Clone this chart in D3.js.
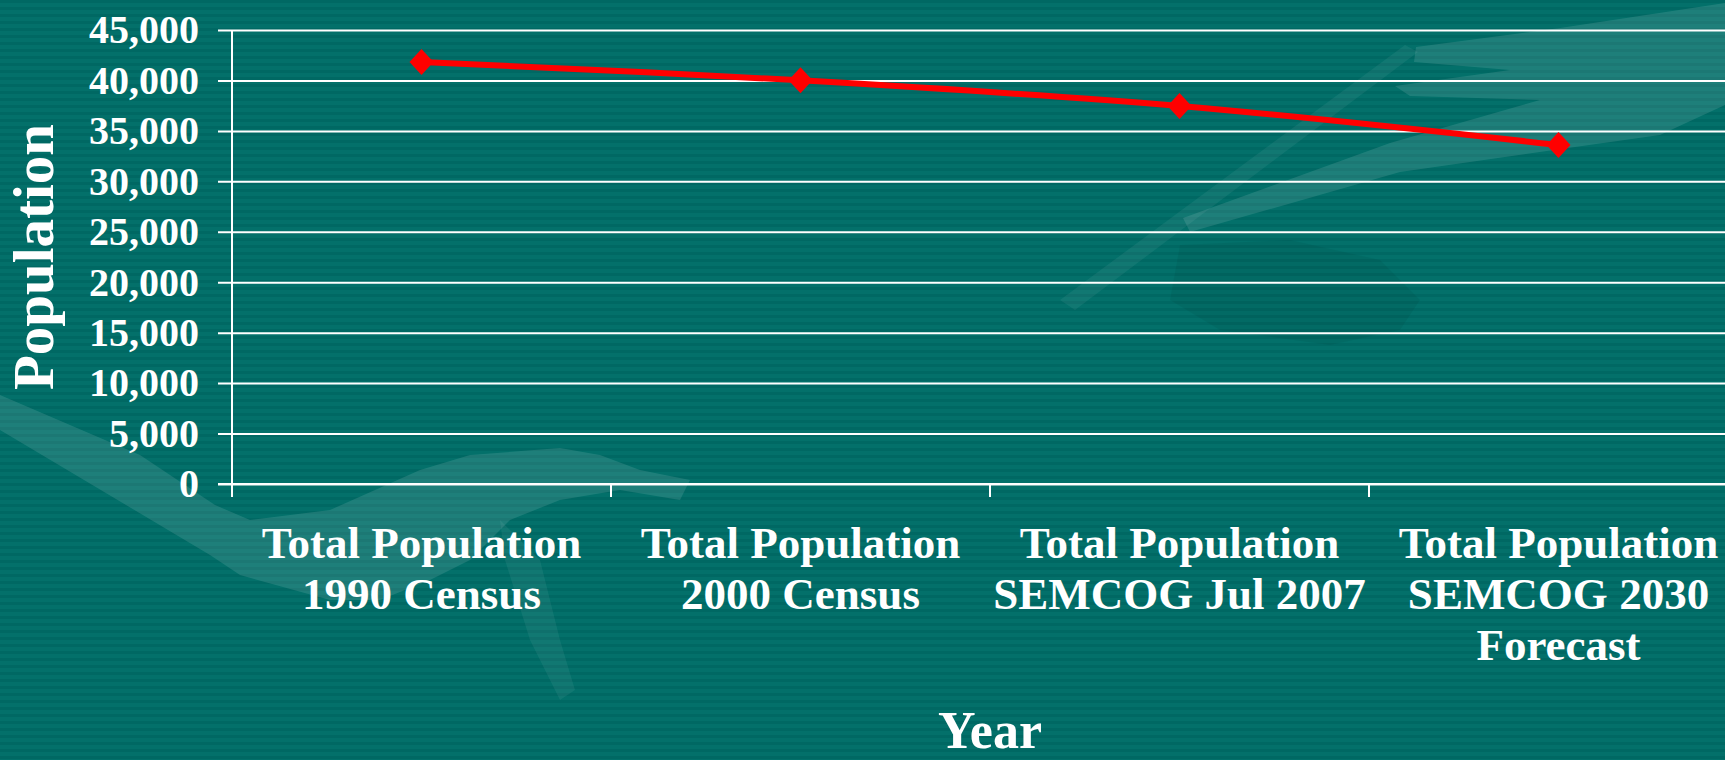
<!DOCTYPE html>
<html>
<head>
<meta charset="utf-8">
<script src="https://cdn.jsdelivr.net/npm/d3@7"></script>
<style>
  html, body { margin: 0; padding: 0; background: #006b66; overflow: hidden; }
  svg { display: block; }
  text { font-family: "Liberation Serif", "Times New Roman", serif; font-weight: bold; fill: #fff; }
</style>
</head>
<body>
<div id="chart"></div>
<script>
// Data
const categories = [
	["Total Population", "1990 Census"],
	["Total Population", "2000 Census"],
	["Total Population", "SEMCOG Jul 2007"],
	["Total Population", "SEMCOG 2030", "Forecast"]
];
const population = [41832, 40008, 37470, 33600];
const yTicks = [0, 5000, 10000, 15000, 20000, 25000, 30000, 35000, 40000, 45000];

const width = 1725, height = 760;
const plotLeft = 232, bandW = 379, plotTop = 30, plotBottom = 484;

const svg = d3.select("#chart").append("svg")
	.attr("width", width)
	.attr("height", height);

// background stripes
const defs = svg.append("defs");
const pat = defs.append("pattern")
	.attr("id", "stripes")
	.attr("width", 8).attr("height", 7)
	.attr("patternUnits", "userSpaceOnUse");
pat.append("rect").attr("width", 8).attr("height", 7).attr("fill", "#006863");
pat.append("rect").attr("y", 3).attr("width", 8).attr("height", 4).attr("fill", "#03706a");
svg.append("rect").attr("width", width).attr("height", height).attr("fill", "url(#stripes)");

// faint decorative shapes of the slide template
const deco = svg.append("g").attr("fill", "rgba(255,255,255,0.11)");
deco.append("path").attr("d",
	"M0,395 L140,455 L215,505 L250,520 L330,510 L420,470 L470,455 L560,448 L600,455 L640,470 L690,480 L680,500 L620,490 L560,500 L510,520 L470,560 L430,580 L380,600 L330,600 L240,575 L210,555 L0,430 Z");
deco.append("path").attr("fill", "rgba(255,255,255,0.06)").attr("d",
	"M500,520 L540,560 L560,640 L575,690 L560,700 L530,640 L505,560 Z");
deco.append("path").attr("d",
	"M1416,47 L1560,28 L1725,3 L1725,105 L1660,135 L1400,172 L1190,232 L1183,218 L1390,143 L1540,100 L1410,96 L1395,86 L1510,70 L1414,62 Z");
deco.append("path").attr("fill", "rgba(255,255,255,0.06)").attr("d",
	"M1060,300 L1405,45 L1418,52 L1075,310 Z");
deco.append("path").attr("fill", "rgba(0,0,0,0.05)").attr("d",
	"M1180,245 L1290,240 L1380,260 L1420,300 L1400,330 L1330,345 L1220,330 L1170,300 Z");

const x = d3.scaleBand()
	.domain(d3.range(categories.length))
	.range([plotLeft, plotLeft + bandW * categories.length]);

const y = d3.scaleLinear()
	.domain([0, 45000])
	.range([plotBottom, plotTop]);

// gridlines
svg.append("g")
	.attr("transform", "translate(" + (plotLeft - 14) + ",0)")
	.call(d3.axisLeft(y).tickValues(yTicks).tickSize(-(width - plotLeft + 14)).tickFormat(""))
	.call(g => g.select(".domain").remove())
	.call(g => g.selectAll(".tick line").attr("stroke", "#fff").attr("stroke-width", 2));

// y axis labels
svg.append("g")
	.attr("transform", "translate(" + plotLeft + ",0)")
	.call(d3.axisLeft(y).tickValues(yTicks).tickSize(0).tickPadding(33).tickFormat(d3.format(",")))
	.call(g => g.select(".domain").remove())
	.call(g => g.selectAll(".tick text").attr("font-size", "40px").attr("fill", "#fff"));

// y axis line
svg.append("line")
	.attr("x1", plotLeft).attr("x2", plotLeft)
	.attr("y1", plotTop).attr("y2", plotBottom + 13)
	.attr("stroke", "#fff").attr("stroke-width", 2);

// x axis line and ticks at category boundaries
svg.append("line")
	.attr("x1", plotLeft - 14).attr("x2", width)
	.attr("y1", plotBottom).attr("y2", plotBottom)
	.attr("stroke", "#fff").attr("stroke-width", 2);
svg.append("g").selectAll("line")
	.data(x.domain())
	.join("line")
	.attr("x1", d => x(d)).attr("x2", d => x(d))
	.attr("y1", plotBottom).attr("y2", plotBottom + 13)
	.attr("stroke", "#fff").attr("stroke-width", 2);

// category labels
svg.append("g").selectAll("text")
	.data(categories)
	.join("text")
	.attr("text-anchor", "middle")
	.attr("font-size", "45px")
	.attr("x", (d, i) => x(i) + x.bandwidth() / 2)
	.attr("y", 558)
	.selectAll("tspan")
	.data(d => d)
	.join("tspan")
	.attr("x", function () { return d3.select(this.parentNode).attr("x"); })
	.attr("dy", (d, i) => i === 0 ? 0 : 51)
	.text(d => d);

// line
const line = d3.line()
	.x((d, i) => x(i) + x.bandwidth() / 2)
	.y(d => y(d))
	.curve(d3.curveCatmullRom);

svg.append("path")
	.datum(population)
	.attr("d", line)
	.attr("fill", "none")
	.attr("stroke", "#ff0000")
	.attr("stroke-width", 6);

svg.append("g").selectAll("path")
	.data(population)
	.join("path")
	.attr("d", "M0,-13 L12,0 L0,13 L-12,0 Z")
	.attr("transform", (d, i) => "translate(" + (x(i) + x.bandwidth() / 2) + "," + y(d) + ")")
	.attr("fill", "#ff0000");

// axis titles
svg.append("text")
	.attr("transform", "translate(53," + ((plotTop + plotBottom) / 2) + ") rotate(-90)")
	.attr("text-anchor", "middle")
	.attr("font-size", "57px")
	.text("Population");

svg.append("text")
	.attr("x", plotLeft + bandW * 2)
	.attr("y", 748)
	.attr("text-anchor", "middle")
	.attr("font-size", "52px")
	.text("Year");
</script>
</body>
</html>
